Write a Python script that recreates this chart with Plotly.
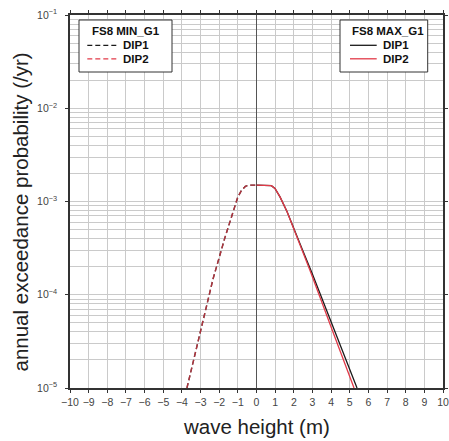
import plotly.graph_objects as go

# ---- data ----
min_x = [-3.73, -3.17, -2.33, -1.69, -1.26, -1.0, -0.8, -0.6, -0.4, 0.0]
min_dip1 = [1.0e-5, 3.02e-5, 1.48e-4, 4.12e-4, 7.94e-4, 1.12e-3, 1.32e-3, 1.45e-3, 1.5e-3, 1.5e-3]
min_dip2 = [1.0e-5, 3.02e-5, 1.48e-4, 4.12e-4, 7.94e-4, 1.12e-3, 1.32e-3, 1.45e-3, 1.5e-3, 1.5e-3]

max_x_dip1 = [0.0, 0.62, 0.8, 0.99, 1.26, 1.64, 2.06, 2.49, 2.98, 4.30, 5.39]
max_dip1 = [1.5e-3, 1.5e-3, 1.48e-3, 1.38e-3, 1.12e-3, 7.76e-4, 4.90e-4, 2.95e-4, 1.70e-4, 3.63e-5, 1.0e-5]
max_x_dip2 = [0.0, 0.62, 0.8, 0.99, 1.26, 1.64, 2.06, 2.49, 2.87, 4.10, 5.23]
max_dip2 = [1.5e-3, 1.5e-3, 1.48e-3, 1.38e-3, 1.12e-3, 7.76e-4, 4.79e-4, 2.85e-4, 1.82e-4, 3.98e-5, 1.0e-5]

x_ticks = list(range(-10, 11))
y_ticks = [1e-5, 1e-4, 1e-3, 1e-2, 1e-1]
y_tick_labels = ["10<sup>−5</sup>", "10<sup>−4</sup>", "10<sup>−3</sup>", "10<sup>−2</sup>", "10<sup>−1</sup>"]

legend_min_title = "FS8 MIN_G1"
legend_max_title = "FS8 MAX_G1"
series_names = ["DIP1", "DIP2"]

FONT = "Liberation Sans, Arial, Helvetica, sans-serif"
RED = "#e23a48"
BLACK = "#1a1a1a"
DASH = "5px,3px"

fig = go.Figure()
fig.add_trace(go.Scatter(x=min_x, y=min_dip1, mode="lines", name=series_names[0],
                         line=dict(color=BLACK, width=1.4, dash=DASH)))
fig.add_trace(go.Scatter(x=min_x, y=min_dip2, mode="lines", name=series_names[1], opacity=0.75,
                         line=dict(color=RED, width=1.4, dash=DASH)))
fig.add_trace(go.Scatter(x=max_x_dip1, y=max_dip1, mode="lines", name=series_names[0],
                         line=dict(color=BLACK, width=1.3)))
fig.add_trace(go.Scatter(x=max_x_dip2, y=max_dip2, mode="lines", name=series_names[1],
                         line=dict(color=RED, width=1.3)))

# ---- plot-area geometry (pixels) for legend boxes ----
L, R, T, B = 70, 443, 15, 388
W, H = R - L, B - T
def px(xp):
    return (xp - L) / W
def py(yp):
    return (B - yp) / H

shapes = []
annotations = []
legend_boxes = [
    dict(x0=79, x1=172, title=legend_min_title, lx0=87.3, lx1=116.7, tx=122, dash=DASH, tcx=125.5),
    dict(x0=340, x1=427.7, title=legend_max_title, lx0=350, lx1=376.7, tx=381.7, dash="solid", tcx=388),
]
for lb in legend_boxes:
    shapes.append(dict(type="rect", xref="paper", yref="paper",
                       x0=px(lb["x0"]), x1=px(lb["x1"]), y0=py(72), y1=py(20),
                       line=dict(color="#333", width=1), fillcolor="white", layer="above"))
    annotations.append(dict(xref="paper", yref="paper", x=px(lb["tcx"]), y=py(31.2),
                            xanchor="center", yanchor="middle", showarrow=False, borderpad=0,
                            text="<b>%s</b>" % lb["title"], font=dict(size=11.5, color="#111", family=FONT)))
    for name, color, yy in zip(series_names, [BLACK, RED], [45.3, 58.8]):
        shapes.append(dict(type="line", xref="paper", yref="paper",
                           x0=px(lb["lx0"]), x1=px(lb["lx1"]), y0=py(yy), y1=py(yy),
                           line=dict(color=color, width=1.3, dash=lb["dash"]), layer="above"))
        annotations.append(dict(xref="paper", yref="paper", x=px(lb["tx"]), y=py(yy),
                                xanchor="left", yanchor="middle", showarrow=False, borderpad=0,
                                text="<b>%s</b>" % name, font=dict(size=11.5, color="#111", family=FONT)))

annotations.append(dict(xref="paper", yref="paper", x=0.5, y=py(426), xanchor="center", yanchor="middle",
                        showarrow=False, text="wave height (m)", font=dict(size=20.5, color="#222", family=FONT)))
annotations.append(dict(xref="paper", yref="paper", x=px(20), y=py(212.5), xanchor="center", yanchor="middle",
                        textangle=-90, showarrow=False, text="annual exceedance probability (/yr)",
                        font=dict(size=20.5, color="#222", family=FONT)))

GRID = "#cacaca"
fig.update_layout(
    width=449, height=441,
    margin=dict(l=L, r=449 - R, t=T, b=441 - B, autoexpand=False),
    paper_bgcolor="white", plot_bgcolor="white",
    font=dict(family=FONT, color="#333"),
    showlegend=False,
    shapes=shapes, annotations=annotations,
    xaxis=dict(
        range=[-10, 10], tickmode="array", tickvals=x_ticks, automargin=False,
        showgrid=True, gridcolor=GRID, gridwidth=1,
        zeroline=True, zerolinecolor="#555", zerolinewidth=1.2,
        showline=True, linecolor="#333", linewidth=1.5, mirror="ticks",
        ticks="outside", ticklen=3, tickcolor="#333", ticklabelstandoff=1,
        ticklabeloverflow="allow",
        tickfont=dict(size=10.5, color="#444"),
    ),
    yaxis=dict(
        type="log", range=[-5, -1], tickmode="array", tickvals=y_ticks, ticktext=y_tick_labels,
        automargin=False,
        showgrid=True, gridcolor=GRID, gridwidth=1,
        showline=True, linecolor="#333", linewidth=1.5, mirror="ticks",
        ticks="outside", ticklen=3, tickcolor="#333", ticklabelstandoff=6,
        tickfont=dict(size=10.5, color="#444"),
        minor=dict(tickmode="linear", dtick="D1", showgrid=True, gridcolor=GRID, ticks=""),
    ),
)

fig.write_html("out.html", config={"displayModeBar": False},
               post_script="document.body.style.margin='0';document.body.style.overflow='hidden';")
